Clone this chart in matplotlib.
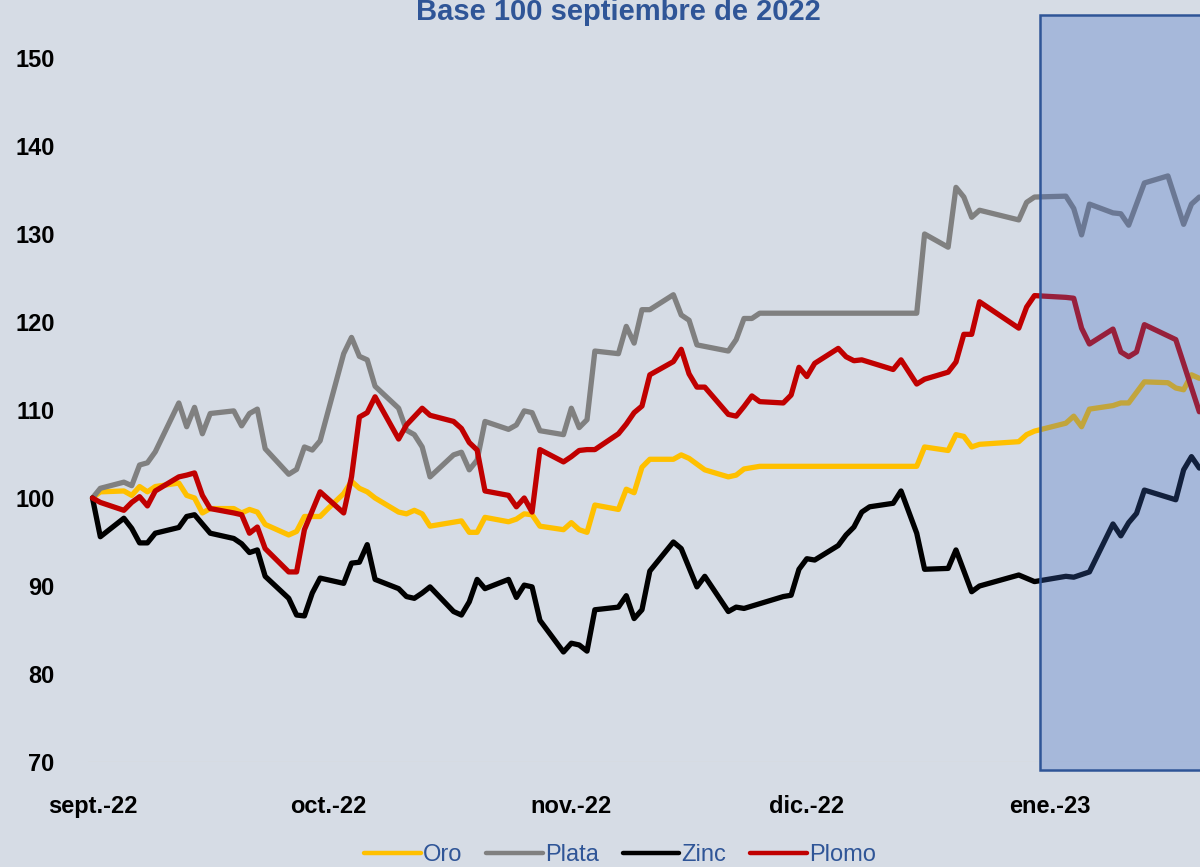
import matplotlib
matplotlib.use("Agg")
import matplotlib.pyplot as plt
import matplotlib.dates as mdates
from matplotlib.patches import Rectangle
import pandas as pd

# --- datos (base 100 = 1 sept 2022), x = dias desde el 1 de septiembre ---
inicio = pd.Timestamp("2022-09-01")

oro_dias = [0, 1, 4, 5, 6, 7, 8, 11, 12, 13, 14, 15, 18, 19, 20, 21, 22, 25, 26, 27, 29, 30,
            32, 33, 34, 35, 36, 39, 40, 41, 42, 43, 47, 48, 49, 50, 53, 54, 55, 56, 57, 60,
            61, 62, 63, 64, 67, 68, 69, 70, 71, 74, 75, 76, 78, 81, 82, 83, 85, 105, 106,
            109, 110, 111, 112, 113, 118, 119, 120, 124, 125, 126, 127, 130, 131, 132, 134,
            137, 138, 139, 140, 141]
oro = [100, 100.7, 100.8, 100.3, 101.3, 100.7, 101.3, 101.7, 100.3, 100.0, 98.3, 98.8, 98.8,
       98.3, 98.7, 98.4, 97.0, 95.8, 96.2, 97.9, 97.9, 98.8,
       100.5, 101.9, 101.1, 100.7, 100.0, 98.4, 98.2, 98.6, 98.2, 96.8, 97.4, 96.1, 96.1, 97.8,
       97.3, 97.6, 98.2, 98.1, 96.8, 96.4,
       97.2, 96.4, 96.1, 99.2, 98.7, 101.0, 100.6, 103.5, 104.4, 104.4, 104.9, 104.5, 103.2,
       102.4, 102.6, 103.3, 103.6, 103.6, 105.8,
       105.4, 107.2, 107.0, 105.8, 106.1, 106.4, 107.2, 107.6, 108.5, 109.3, 108.1, 110.1,
       110.5, 110.8, 110.8, 113.2,
       113.1, 112.5, 112.3, 114.0, 113.6]

plata_dias = [0, 1, 4, 5, 6, 7, 8, 11, 12, 13, 14, 15, 18, 19, 20, 21, 22, 25, 26, 27, 28, 29,
              32, 33, 34, 35, 36, 39, 40, 41, 42, 43, 46, 47, 48, 49, 50, 53, 54, 55, 56, 57,
              60, 61, 62, 63, 64, 67, 68, 69, 70, 71, 74, 75, 76, 77, 81, 82, 83, 84, 85, 105,
              106, 109, 110, 111, 112, 113, 118, 119, 120, 124, 125, 126, 127, 130, 131, 132,
              134, 137, 139, 140, 141]
plata = [100, 101.1, 101.8, 101.4, 103.75, 104.0, 105.25, 110.8, 108.1, 110.3, 107.3, 109.6,
         109.9, 108.2, 109.6, 110.1, 105.6, 102.7, 103.25, 105.8, 105.45, 106.5,
         116.4, 118.25, 116.1, 115.7, 112.7, 110.2, 107.7, 107.2, 105.8, 102.4, 104.9, 105.2,
         103.2, 104.3, 108.7, 107.8, 108.3, 109.9, 109.7, 107.65,
         107.2, 110.2, 108.0, 108.9, 116.7, 116.4, 119.5, 117.6, 121.4, 121.4, 123.1, 120.8,
         120.2, 117.4, 116.7, 118.0, 120.4, 120.4, 121.0, 121.0,
         130.0, 128.5, 135.3, 134.2, 131.9, 132.7, 131.6, 133.6, 134.2, 134.3, 132.9, 129.9,
         133.4, 132.4, 132.3, 131.0,
         135.8, 136.6, 131.1, 133.4, 134.2]

zinc_dias = [0, 1, 4, 5, 6, 7, 8, 11, 12, 13, 15, 18, 19, 20, 21, 22, 25, 26, 27, 28, 29,
             32, 33, 34, 35, 36, 39, 40, 41, 42, 43, 46, 47, 48, 49, 50, 53, 54, 55, 56, 57,
             60, 61, 62, 63, 64, 67, 68, 69, 70, 71, 74, 75, 77, 78, 81, 82, 83, 88, 89, 90,
             91, 92, 95, 96, 97, 98, 99, 102, 103, 105, 106, 109, 110, 112, 113, 118, 120,
             124, 125, 127, 130, 131, 132, 133, 134, 138, 139, 140, 141]
zinc = [100, 95.6, 97.7, 96.55, 94.9, 94.9, 96.0, 96.65, 97.9, 98.1, 96.0, 95.4, 94.8, 93.8,
        94.1, 91.1, 88.6, 86.7, 86.6, 89.2, 90.9,
        90.3, 92.6, 92.7, 94.7, 90.75, 89.7, 88.8, 88.6, 89.2, 89.9, 87.1, 86.7, 88.2, 90.75,
        89.7, 90.75, 88.7, 90.1, 89.9, 86.1,
        82.5, 83.5, 83.3, 82.6, 87.3, 87.6, 88.9, 86.3, 87.3, 91.7, 95.0, 94.25, 89.9, 91.1,
        87.1, 87.6, 87.45, 88.8, 88.95, 91.9,
        93.1, 92.95, 94.6, 95.8, 96.7, 98.4, 99.0, 99.4, 100.8, 96.0, 91.9, 92.0, 94.1, 89.35,
        90.0, 91.25, 90.5,
        91.1, 91.0, 91.6, 97.05, 95.7, 97.2, 98.25, 100.9, 99.8, 103.2, 104.7, 103.4]

plomo_dias = [0, 1, 4, 5, 6, 7, 8, 11, 12, 13, 14, 15, 18, 19, 20, 21, 22, 25, 26, 27, 29,
              32, 33, 34, 35, 36, 39, 40, 42, 43, 46, 47, 48, 49, 50, 53, 54, 55, 56, 57, 60,
              61, 62, 63, 64, 67, 68, 69, 70, 71, 74, 75, 76, 77, 78, 81, 82, 83, 84, 85, 88,
              89, 90, 91, 92, 95, 96, 97, 98, 102, 103, 105, 106, 109, 110, 111, 112, 113,
              118, 119, 120, 124, 125, 126, 127, 130, 131, 132, 133, 134, 138, 141]
plomo = [100, 99.5, 98.6, 99.5, 100.15, 99.1, 100.8, 102.4, 102.6, 102.85, 100.3, 98.8, 98.3,
         98.1, 96.0, 96.7, 94.25, 91.6, 91.6, 96.4, 100.7,
         98.3, 102.4, 109.2, 109.7, 111.5, 106.7, 108.3, 110.2, 109.4, 108.7, 107.9, 106.3,
         105.45, 100.8, 100.3, 99.0, 100.0, 98.4, 105.5, 104.1,
         104.7, 105.4, 105.5, 105.5, 107.3, 108.4, 109.7, 110.45, 114.0, 115.5, 116.9, 114.1,
         112.6, 112.6, 109.5, 109.3, 110.4, 111.6, 110.95, 110.8,
         111.7, 114.85, 113.8, 115.3, 117.0, 116.05, 115.6, 115.7, 114.6, 115.7, 112.95, 113.5,
         114.3, 115.45, 118.6, 118.6, 122.3,
         119.3, 121.7, 123.0, 122.8, 122.7, 119.3, 117.5, 119.2, 116.6, 116.05, 116.6, 119.7,
         118.0, 109.8]

series = [("Oro", oro_dias, oro, "#FFC000"),
          ("Plata", plata_dias, plata, "#808080"),
          ("Zinc", zinc_dias, zinc, "#000000"),
          ("Plomo", plomo_dias, plomo, "#C00000")]

meses = ["2022-09-01", "2022-10-01", "2022-11-01", "2022-12-01", "2023-01-01"]
meses_lbl = ["sept.-22", "oct.-22", "nov.-22", "dic.-22", "ene.-23"]
titulo = "Base 100 septiembre de 2022"

# zona sombreada (enero 2023 en adelante)
zona_ini = pd.Timestamp("2022-12-31") - pd.Timedelta(hours=7)
zona_y = (69.1, 154.9)

fuente = ["Liberation Sans", "DejaVu Sans"]
plt.rcParams["font.family"] = fuente
bg = "#D6DCE5"
azul = "#2F5597"

fig = plt.figure(figsize=(12, 8.67), dpi=100, facecolor=bg)
ax = fig.add_axes([88 / 1200, 105 / 867, 1 - 88 / 1200, 762 / 867])
ax.set_facecolor(bg)

for nombre, dias, vals, col in series:
    fechas = inicio + pd.to_timedelta(dias, unit="D")
    ax.plot(fechas, vals, color=col, lw=3.8, label=nombre, zorder=3,
            solid_joinstyle="round", solid_capstyle="round")

ax.axhline(70, color="#D9D9D9", lw=1, zorder=1)

x0 = mdates.date2num(zona_ini)
rect = Rectangle((x0, zona_y[0]), 40, zona_y[1] - zona_y[0],
                 facecolor=(61 / 255, 105 / 255, 194 / 255, 0.31),
                 edgecolor=azul, lw=1.8, zorder=5, clip_on=False)
ax.add_patch(rect)

xmin = mdates.date2num(inicio) - 0.57
ax.set_xlim(xmin, xmin + 1112 / 7.85)
ax.set_ylim(70, 70 + 762 / 8.8)

ax.set_yticks(range(70, 151, 10))
ax.set_yticklabels([str(v) for v in range(70, 151, 10)], fontsize=17, fontweight="bold")
ax.set_xticks([mdates.date2num(pd.Timestamp(m)) for m in meses])
ax.set_xticklabels(meses_lbl, fontsize=17, fontweight="bold")
ax.tick_params(axis="both", length=0)
ax.tick_params(axis="y", pad=24)
ax.tick_params(axis="x", pad=24)
for s in ax.spines.values():
    s.set_visible(False)

# el titulo queda pegado al borde superior, como en la referencia
fig.text(618 / 1200, 1 - 20 / 867, titulo, ha="center", va="baseline",
         fontsize=21, fontweight="bold", color=azul)

leg = fig.legend(loc="center", bbox_to_anchor=(620 / 1200, 1 - 855 / 867), ncol=4,
                 frameon=False, fontsize=17, handlelength=2.4, handletextpad=0.1,
                 columnspacing=1.0, borderaxespad=0)
for t in leg.get_texts():
    t.set_color(azul)
for l in leg.get_lines():
    l.set_linewidth(3.2)

fig.savefig("out.png", dpi=100, facecolor=bg)
